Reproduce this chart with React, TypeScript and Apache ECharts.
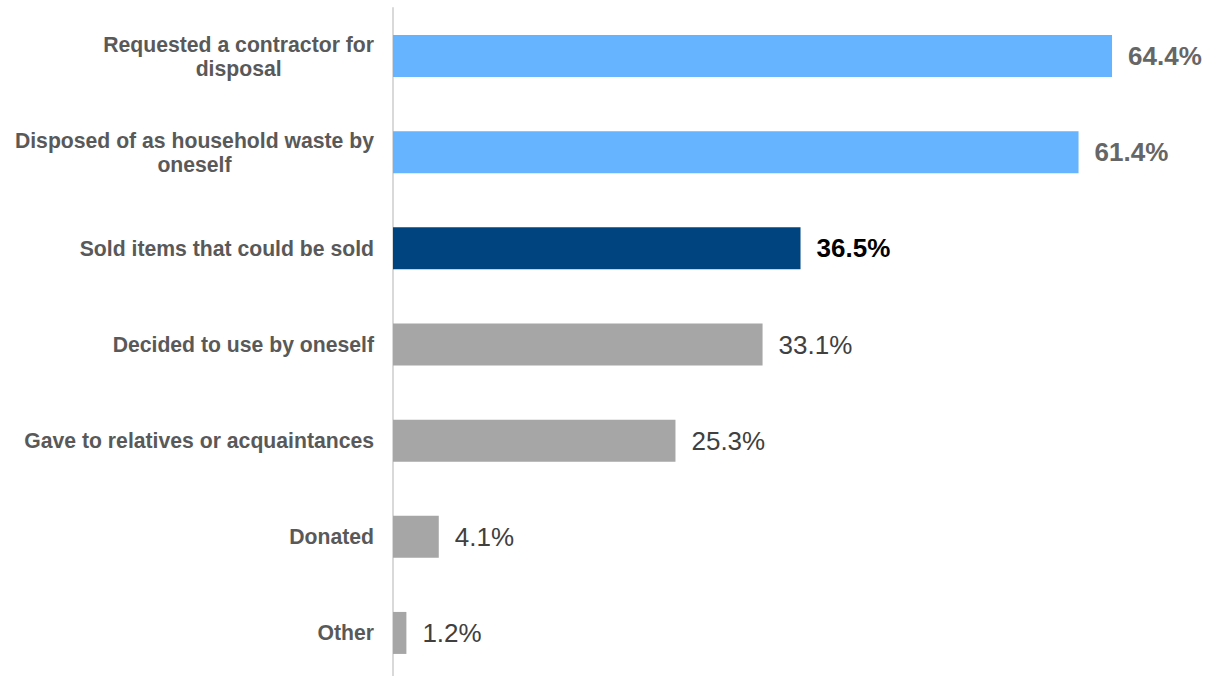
import React, { useEffect, useRef } from "react";
import * as echarts from "echarts";

const categories = [
  "Requested a contractor for\ndisposal",
  "Disposed of as household waste by\noneself",
  "Sold items that could be sold",
  "Decided to use by oneself",
  "Gave to relatives or acquaintances",
  "Donated",
  "Other",
];
const values = [64.4, 61.4, 36.5, 33.1, 25.3, 4.1, 1.2];
const barColors = ["#66b3ff", "#66b3ff", "#00447f", "#a6a6a6", "#a6a6a6", "#a6a6a6", "#a6a6a6"];
const labelColors = ["#666666", "#666666", "#000000", "#404040", "#404040", "#404040", "#404040"];
const labelWeights = ["bold", "bold", "bold", "normal", "normal", "normal", "normal"];

export default function App() {
  const ref = useRef<HTMLDivElement>(null);
  useEffect(() => {
    if (!ref.current) return;
    const chart = echarts.init(ref.current, undefined, { renderer: "svg" });
    const font = "Liberation Sans, Arial, sans-serif";
    chart.setOption({
      animation: false,
      grid: { left: 393, top: 8, width: 11.165 * 70, height: 673, containLabel: false },
      xAxis: { type: "value", min: 0, max: 70, show: false },
      yAxis: {
        type: "category",
        data: categories,
        inverse: true,
        axisLine: { show: true, lineStyle: { color: "#d9d9d9", width: 2 } },
        axisTick: { show: false },
        axisLabel: {
          margin: 19,
          align: "right",
          formatter: (v: string) =>
            v
              .split("\n")
              .map((l) => `{c|${l}}`)
              .join("\n"),
          rich: {
            c: {
              align: "center",
              fontFamily: font,
              fontSize: 21.2,
              fontWeight: "bold",
              color: "#595959",
              lineHeight: 24,
            },
          },
        },
      },
      series: [
        {
          type: "bar",
          barWidth: 42,
          data: values.map((v, i) => ({
            value: v,
            itemStyle: { color: barColors[i] },
            label: {
              show: true,
              position: "right",
              distance: 16,
              formatter: (p: any) => p.value.toFixed(1) + "%",
              fontFamily: font,
              fontSize: 26,
              fontWeight: labelWeights[i],
              color: labelColors[i],
            },
          })),
        },
      ],
    });
    return () => chart.dispose();
  }, []);
  return (
    <div
      ref={ref}
      style={{ position: "fixed", left: 0, top: 0, width: 1207, height: 700, background: "#fff" }}
    />
  );
}
